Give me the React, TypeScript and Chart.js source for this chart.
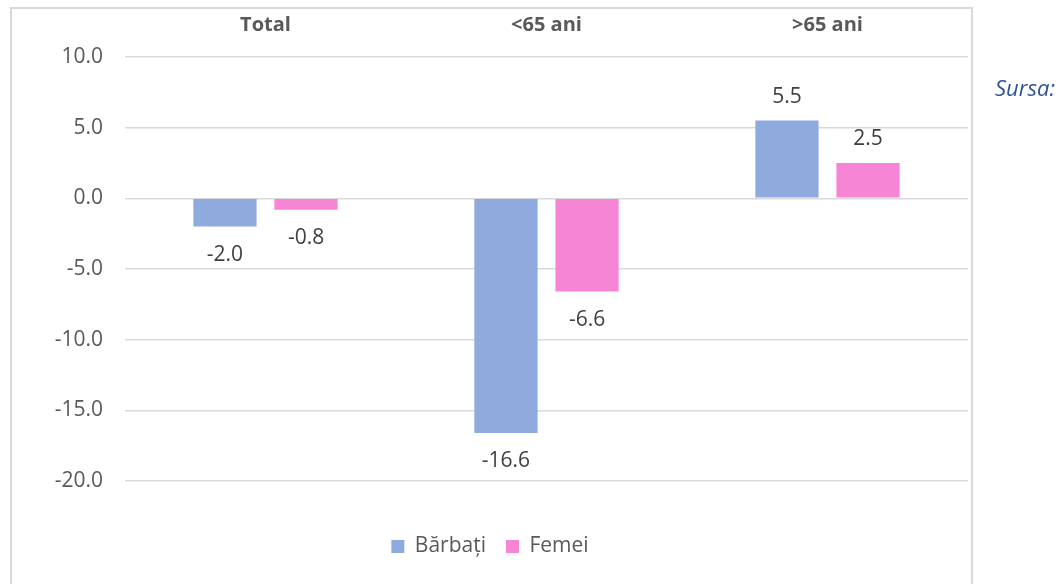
import React, { useEffect, useRef } from "react";
import { Chart, registerables } from "chart.js";

Chart.register(...registerables);

const categories = ["Total", "<65 ani", ">65 ani"];
const barbatiValues = [-2.0, -16.6, 5.5];
const femeiValues = [-0.8, -6.6, 2.5];
const yTicks = [10, 5, 0, -5, -10, -15, -20];

const FONT = "'Open Sans', 'DejaVu Sans', sans-serif";

const dataLabelPlugin = {
  id: "dataLabels",
  afterDatasetsDraw(chart: any) {
    const ctx = chart.ctx;
    ctx.save();
    ctx.font = `21px ${FONT}`;
    ctx.fillStyle = "#404040";
    ctx.textAlign = "center";
    ctx.textBaseline = "middle";
    chart.data.datasets.forEach((ds: any, di: number) => {
      const meta = chart.getDatasetMeta(di);
      meta.data.forEach((bar: any, i: number) => {
        const v = ds.data[i];
        const y = v >= 0 ? bar.y - 24 : bar.y + 28;
        ctx.fillText(v.toFixed(1), bar.x, y);
      });
    });
    ctx.restore();
  },
};

export default function App() {
  const ref = useRef<HTMLCanvasElement>(null);
  useEffect(() => {
    if (!ref.current) return;
    const chart = new Chart(ref.current, {
      type: "bar",
      data: {
        labels: categories,
        datasets: [
          {
            label: "Bărbați",
            data: barbatiValues,
            backgroundColor: "#8faadc",
            categoryPercentage: 0.577,
            barPercentage: 0.78,
          },
          {
            label: "Femei",
            data: femeiValues,
            backgroundColor: "#f785d6",
            categoryPercentage: 0.577,
            barPercentage: 0.78,
          },
        ],
      },
      options: {
        animation: false,
        responsive: false,
        maintainAspectRatio: false,
        layout: { padding: { top: 0, left: 0, right: 3, bottom: 17 } },
        plugins: {
          tooltip: { enabled: false },
          legend: {
            position: "bottom",
            labels: {
              boxWidth: 13,
              boxHeight: 13,
              padding: 20,
              color: "#595959",
              font: { family: FONT, size: 21 },
            },
          },
        },
        scales: {
          x: {
            position: "top",
            grid: { display: false, drawTicks: false },
            border: { display: false },
            ticks: {
              color: "#595959",
              font: { family: FONT, size: 20, weight: "bold" },
              padding: 20,
            },
            afterFit(s: any) {
              s.height = 48;
            },
          },
          x2: {
            type: "category",
            position: "bottom",
            grid: { display: false, drawTicks: false },
            border: { display: false },
            ticks: { display: false },
            afterFit(s: any) {
              s.height = 35;
            },
          },
          y: {
            min: -20,
            max: 10,
            afterBuildTicks(s: any) {
              s.ticks = yTicks.map((v) => ({ value: v }));
            },
            grid: { color: "#d9d9d9", lineWidth: 1.5, drawTicks: false },
            border: { display: false },
            ticks: {
              color: "#595959",
              font: { family: FONT, size: 21 },
              padding: 22,
              callback: (v: any) => Number(v).toFixed(1),
            },
            afterFit(s: any) {
              s.width = 113;
            },
          },
        },
      },
      plugins: [dataLabelPlugin],
    } as any);
    return () => chart.destroy();
  }, []);

  return (
    <div>
      <div
        style={{
          position: "fixed",
          left: 10,
          top: 7,
          width: 959,
          height: 600,
          border: "2px solid #d9d9d9",
          background: "#fff",
        }}
      >
        <canvas ref={ref} width={959} height={575} style={{ display: "block" }} />
      </div>
      <div
        style={{
          position: "fixed",
          left: 995,
          top: 72,
          fontFamily: FONT,
          fontStyle: "italic",
          fontSize: 22,
          color: "#2f5496",
          whiteSpace: "nowrap",
        }}
      >
        Sursa:
      </div>
    </div>
  );
}
